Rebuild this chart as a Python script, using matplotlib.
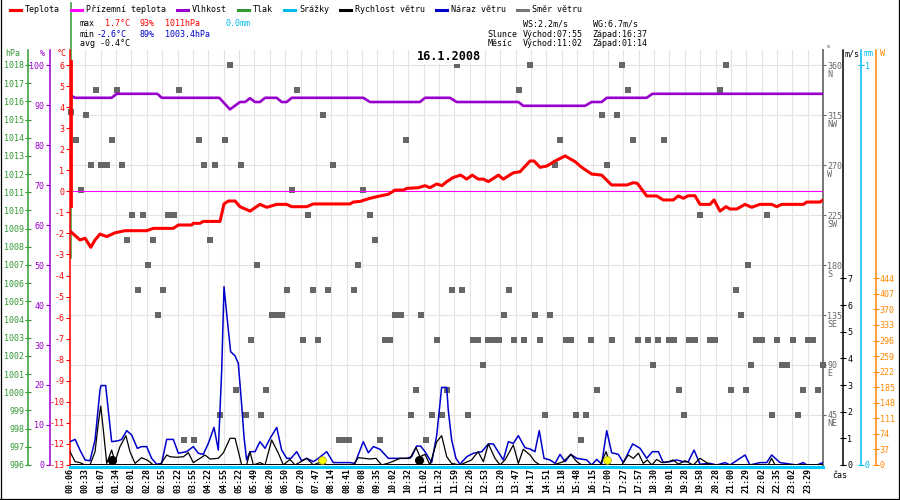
import matplotlib
matplotlib.use("Agg")
import matplotlib.pyplot as plt
import matplotlib.transforms as mtransforms
from matplotlib.lines import Line2D

# ---------------------------------------------------------------- data
# x axis = sample index of the tick labels (0 = 00:06 ... 48 = 23:29)
casy = ["00:06", "00:33", "01:07", "01:34", "02:01", "02:28", "02:55", "03:22", "03:55", "04:22",
        "04:55", "05:22", "05:49", "06:20", "06:50", "07:20", "07:47", "08:14", "08:41", "09:08",
        "09:35", "10:02", "10:32", "11:02", "11:32", "11:59", "12:26", "12:53", "13:20", "13:47",
        "14:17", "14:51", "15:18", "15:48", "16:15", "17:00", "17:27", "17:57", "18:30", "19:01",
        "19:28", "19:58", "20:28", "21:00", "21:29", "22:02", "22:35", "23:02", "23:29"]

# temperature (degC)
teplota_cas = [0.05, 0.65, 0.98, 1.35, 1.63, 1.95, 2.39, 2.93, 3.58, 4.99,
               5.42, 6.72, 7.05, 7.92, 8.02, 8.46, 8.67, 9.76, 10.02, 10.30,
               10.74, 11.06, 11.71, 12.36, 12.80, 13.45, 14.10, 14.42, 15.40, 15.83,
               18.22, 18.43, 18.87, 19.52, 20.17, 20.71, 21.15, 21.69, 21.91, 22.66,
               23.10, 23.42, 23.86, 24.20, 24.51, 24.94, 25.42, 25.81, 26.17, 26.56,
               26.89, 27.22, 27.87, 28.19, 28.84, 29.28, 29.93, 30.19, 30.58, 31.02,
               31.56, 32.21, 32.86, 33.29, 33.94, 34.59, 35.24, 36.22, 36.65, 36.91,
               37.52, 38.17, 38.60, 39.25, 39.58, 39.90, 40.23, 40.66, 40.99, 41.64,
               41.90, 42.29, 42.68, 42.94, 43.38, 43.92, 44.35, 44.89, 45.65, 45.98,
               46.30, 47.71, 47.93, 48.80, 49.00]
teplota = [-1.92, -2.31, -2.23, -2.66, -2.31, -2.03, -2.15, -1.97, -1.87, -1.87,
           -1.76, -1.76, -1.60, -1.60, -1.52, -1.52, -1.43, -1.43, -0.60, -0.46,
           -0.46, -0.73, -0.94, -0.62, -0.76, -0.62, -0.62, -0.73, -0.73, -0.60,
           -0.60, -0.51, -0.48, -0.33, -0.22, -0.14, 0.06, 0.06, 0.14, 0.17,
           0.27, 0.17, 0.35, 0.27, 0.46, 0.66, 0.77, 0.58, 0.77, 0.58,
           0.58, 0.46, 0.77, 0.58, 0.88, 0.93, 1.44, 1.44, 1.14, 1.20,
           1.44, 1.68, 1.41, 1.14, 0.82, 0.77, 0.30, 0.30, 0.41, 0.38,
           -0.22, -0.22, -0.41, -0.41, -0.22, -0.33, -0.21, -0.21, -0.62, -0.62,
           -0.41, -0.94, -0.73, -0.84, -0.84, -0.62, -0.76, -0.62, -0.62, -0.73,
           -0.62, -0.62, -0.51, -0.51, -0.41]
teplota_start_cas = [0.05, 0.05]
teplota_start = [6.2, -0.7]

prizemni_cas = [0.0, 49.0]
prizemni = [0.0, 0.0]

# humidity (%)
vlhkost_cas = [0.0, 0.33, 2.71, 3.04, 5.68, 5.97, 9.71, 10.41, 11.06, 11.39,
               11.71, 12.04, 12.36, 12.69, 13.45, 13.77, 14.10, 14.42, 19.08, 19.52,
               22.77, 23.10, 24.72, 25.16, 29.17, 29.49, 33.51, 33.94, 34.59, 34.92,
               37.52, 37.89, 49.0]
vlhkost = [92.5, 91.8, 91.8, 92.8, 92.8, 91.8, 91.8, 88.9, 90.75, 90.75,
           91.7, 90.75, 90.75, 91.8, 91.8, 90.75, 90.75, 91.8, 91.8, 90.75,
           90.75, 91.8, 91.8, 90.75, 90.75, 89.8, 89.8, 90.75, 90.75, 91.8,
           91.8, 92.8, 92.8]

# pressure (hPa) - only a spike at the start is drawn
tlak_cas = [0.08, 0.08]
tlak = [1021.4, 1007.4]

# precipitation (mm)
srazky_cas = [0.0, 49.0]
srazky = [0.0, 0.0]

# wind gust (m/s)
naraz_cas = [0.0, 0.33, 0.65, 0.98, 1.30, 1.63, 1.95, 2.02, 2.32, 2.49,
             2.71, 3.14, 3.36, 3.69, 4.01, 4.38, 4.66, 4.99, 5.31, 5.64,
             5.96, 6.29, 6.72, 7.05, 7.59, 8.02, 8.35, 8.67, 9.00, 9.37,
             9.65, 9.87, 10.02, 10.19, 10.35, 10.45, 10.74, 10.95, 11.17, 11.32,
             11.49, 11.71, 12.04, 12.36, 12.69, 13.02, 13.45, 13.77, 14.10, 14.38,
             14.75, 15.07, 15.40, 15.83, 16.16, 16.70, 17.13, 18.22, 18.54, 19.08,
             19.41, 19.74, 20.17, 20.71, 21.04, 21.91, 22.23, 22.55, 22.81, 23.10,
             23.53, 23.86, 24.18, 24.51, 24.61, 24.83, 25.11, 25.37, 25.81, 26.24,
             26.79, 27.22, 27.54, 28.19, 28.52, 28.84, 29.17, 29.60, 29.93, 30.25,
             30.53, 30.84, 31.23, 31.56, 31.88, 32.21, 32.58, 32.97, 33.62, 33.94,
             34.27, 34.59, 34.92, 35.24, 35.67, 36.00, 36.61, 37.09, 37.52, 37.89,
             38.28, 38.60, 39.04, 39.47, 39.90, 40.23, 40.60, 40.99, 41.64, 42.08,
             42.62, 42.94, 43.92, 44.24, 44.89, 45.33, 45.65, 46.19, 47.28, 47.71,
             47.93, 48.58, 49.0]
naraz = [0.875, 0.96, 0.56, 0.19, 0.16, 0.94, 2.81, 2.98, 2.98, 2.06,
         0.875, 0.91, 0.96, 1.29, 1.125, 0.625, 0.69, 0.69, 0.25, 0.03,
         0.06, 0.96, 0.96, 0.44, 0.5, 0.69, 0.44, 0.4, 0.81, 1.41,
         0.56, 3.56, 6.69, 5.69, 4.81, 4.25, 4.09, 3.81, 2.25, 1.06,
         0.19, 0.5, 0.5, 0.875, 0.625, 1.0, 1.41, 0.56, 0.25, 0.25,
         0.5, 0.16, 0.25, 0.125, 0.25, 0.5, 0.09, 0.09, 0.06, 0.875,
         0.46, 0.69, 0.59, 0.25, 0.25, 0.25, 0.31, 0.71, 0.71, 0.5,
         0.09, 1.125, 2.91, 2.91, 2.06, 0.94, 0.25, 0.03, 0.31, 0.44,
         0.5, 0.79, 0.79, 0.19, 0.875, 0.81, 1.1, 0.65, 0.6, 0.5,
         1.29, 0.25, 0.19, 0.06, 0.4, 0.125, 0.4, 0.25, 0.19, 0.0,
         0.21, 0.03, 1.29, 0.46, 0.4, 0.09, 0.79, 0.625, 0.25, 0.5,
         0.5, 0.09, 0.125, 0.19, 0.125, 0.125, 0.56, 0.03, 0.06, 0.0,
         0.09, 0.0, 0.375, 0.0, 0.09, 0.09, 0.375, 0.09, 0.0, 0.09,
         0.0, 0.0, 0.09]

# wind speed (m/s)
rychlost_cas = [0.0, 0.33, 0.65, 0.98, 1.30, 1.63, 1.84, 2.00, 2.17, 2.39,
                2.71, 2.93, 3.25, 3.64, 3.90, 4.23, 4.66, 5.10, 5.42, 5.86,
                6.29, 6.51, 6.94, 7.38, 7.70, 8.02, 8.46, 8.78, 9.11, 9.65,
                9.98, 10.41, 10.74, 11.17, 11.49, 11.71, 11.93, 12.36, 12.69, 13.12,
                13.56, 13.88, 14.31, 14.64, 15.40, 15.83, 16.37, 16.70, 18.43, 18.76,
                19.52, 19.91, 20.28, 20.82, 21.47, 22.12, 22.51, 22.77, 23.10, 23.42,
                23.86, 24.18, 24.51, 24.83, 25.37, 26.13, 26.55, 26.89, 27.22, 27.65,
                27.98, 28.30, 28.84, 29.17, 29.49, 29.93, 30.25, 30.58, 31.45, 32.10,
                32.58, 32.97, 33.29, 34.49, 34.88, 35.14, 35.89, 36.32, 36.65, 36.98,
                37.30, 37.56, 37.85, 38.17, 38.50, 38.93, 39.25, 39.58, 40.01, 40.55,
                40.99, 41.42, 41.75, 45.43, 45.65, 45.87, 49.0]
rychlost = [0.5, 0.125, 0.09, 0.0, 0.0, 0.5, 1.56, 2.21, 1.31, 0.06,
            0.56, 0.125, 0.69, 1.1, 0.5, 0.06, 0.275, 0.16, 0.0, 0.0,
            0.375, 0.31, 0.29, 0.31, 0.46, 0.09, 0.25, 0.375, 0.225, 0.25,
            0.46, 1.0, 1.0, 0.0, 0.0, 0.5, 0.0, 0.09, 0.0, 0.94,
            0.44, 0.0, 0.21, 0.0, 0.25, 0.0, 0.125, 0.0, 0.0, 0.275,
            0.225, 0.25, 0.0, 0.09, 0.25, 0.25, 0.66, 0.31, 0.4, 0.0,
            0.875, 1.1, 0.31, 0.06, 0.0, 0.19, 0.5, 0.125, 0.79, 0.25,
            0.0, 0.19, 0.75, 0.06, 0.59, 0.375, 0.125, 0.0, 0.0, 0.125,
            0.4, 0.125, 0.0, 0.0, 0.5, 0.0, 0.0, 0.375, 0.25, 0.44,
            0.06, 0.19, 0.0, 0.21, 0.09, 0.125, 0.19, 0.03, 0.16, 0.0,
            0.25, 0.09, 0.0, 0.0, 0.25, 0.0, 0.0]

# wind direction (deg), sample times grouped by direction
smer_urovne = [360, 337.5, 318, 315, 292.5, 270, 247.5, 225, 202.5, 180,
               157.5, 135, 112.5, 90, 67.5, 45, 22.5]
smer_casy = [
    [10.41, 25.16, 29.93, 35.89, 42.66],
    [1.69, 3.04, 7.09, 14.75, 29.21, 36.28, 42.29],
    [0.05],
    [1.04, 16.44, 34.59, 35.57],
    [0.37, 2.71, 8.39, 10.07, 21.84, 31.88, 36.61, 38.65],
    [1.35, 2.00, 2.39, 3.36, 8.74, 9.41, 11.11, 17.13, 31.56, 34.92],
    [0.70, 14.44, 19.08],
    [4.01, 4.73, 6.36, 6.75, 15.46, 19.52, 40.99, 45.33],
    [3.69, 5.38, 9.09, 19.84],
    [5.07, 12.17, 18.74, 44.11],
    [4.40, 6.03, 14.12, 15.81, 16.79, 18.46, 24.83, 25.50, 28.56, 43.33],
    [5.71, 13.14, 13.47, 13.79, 21.13, 21.52, 22.84, 28.24, 30.25, 31.23, 43.66],
    [11.76, 15.16, 16.14, 20.49, 20.82, 23.86, 26.20, 26.54, 27.18, 27.54, 27.91,
     28.89, 29.54, 30.58, 32.27, 32.60, 33.90, 35.24, 36.95, 37.61, 38.26, 38.97,
     39.30, 40.27, 40.66, 41.64, 41.96, 44.63, 45.02, 46.00, 47.04, 48.01, 48.34],
    [26.85, 37.93, 44.31, 46.32, 46.65, 48.98],
    [10.78, 12.75, 22.51, 24.53, 34.29, 39.62, 43.00, 43.98, 47.69, 48.67],
    [9.76, 11.43, 12.43, 22.19, 23.53, 24.18, 25.90, 30.90, 32.92, 33.57, 39.95, 45.67, 47.37],
    [7.42, 8.07, 17.50, 17.83, 18.16, 20.17, 23.16, 33.24],
]

# moon set / rise and sunrise / sunset
mesic_cas = [2.75, 22.71]
slunce_cas = [16.42, 34.92]

# axis ticks
tlak_ticks = list(range(996, 1019))
vlhkost_ticks = list(range(0, 101, 10))
teplota_ticks = list(range(-13, 7))
smer_ticks = [45, 90, 135, 180, 225, 270, 315, 360]
smer_nazvy = ["NE", "E", "SE", "S", "SW", "W", "NW", "N"]
vitr_ticks = list(range(0, 8))
srazky_ticks = [0, 1]
zareni_ticks = list(range(0, 445, 37))

legenda = [("Teplota", "#ff0000"), ("Přízemní teplota", "#ff00ff"), ("Vlhkost", "#9900cc"),
           ("Tlak", "#339933"), ("Srážky", "#00bbee"), ("Rychlost větru", "#000000"),
           ("Náraz větru", "#0000cc"), ("Směr větru", "#777777")]

# ---------------------------------------------------------------- figure
plt.rcParams['font.family'] = ['DejaVu Sans Mono', 'DejaVu Sans']
plt.rcParams['font.size'] = 6
plt.rcParams['axes.unicode_minus'] = False

W, H = 900, 500
L, R, T, B = 70.0, 823.3, 50.0, 465.0


def fx(x):
    return x / W


def fy(y):
    return 1 - y / H


def lims(v0, v1):
    # v0 sits on the bottom (y=465), v1 on y=65, axes box goes up to y=50
    return (v0, v1 + (v1 - v0) * 15.0 / 400.0)


fig = plt.figure(figsize=(9, 5), dpi=100)
ax = fig.add_axes([fx(L), fy(B), (R - L) / W, (B - T) / H])
ax.set_xlim(0, 49.01)
ax.set_ylim(lims(0, 360))
ax.set_xticks(range(len(casy)))
ax.set_xticklabels(casy, rotation=90, fontweight='bold')
ax.tick_params(axis='x', length=0, pad=2.5, labelsize=6)
ax.grid(True, color='#e6e2e2', lw=0.8)
ax.set_axisbelow(True)
for s in ['left', 'top', 'bottom']:
    ax.spines[s].set_visible(False)
ax.spines['right'].set_color('#777777')
ax.spines['right'].set_linewidth(1.4)

for uroven, cas in zip(smer_urovne, smer_casy):
    ax.plot(cas, [uroven] * len(cas), 's', ms=4.3, color='#666666', mew=0,
            clip_on=False, zorder=3)


def twin(color, lim, side, pos_px, ticks, direction, length):
    a = ax.twinx()
    a.set_ylim(lim)
    for s in a.spines.values():
        s.set_visible(False)
    sp = a.spines[side]
    sp.set_visible(True)
    sp.set_color(color)
    sp.set_linewidth(1.1)
    sp.set_position(('axes', (pos_px - L) / (R - L)))
    if side == 'left':
        a.yaxis.tick_left()
    else:
        a.yaxis.tick_right()
    a.set_yticks(ticks)
    a.set_yticklabels([str(t) for t in ticks])
    a.tick_params(axis='y', colors=color, direction=direction, length=length,
                  width=0.8, pad=1, labelsize=6)
    return a


a_p = twin('#339933', lims(996, 1018), 'left', 28.3, tlak_ticks, 'inout', 4)
a_p.plot(tlak_cas, tlak, color='#339933', lw=1.1, clip_on=False)

a_h = twin('#9900cc', lims(0, 100), 'left', 50.0, vlhkost_ticks, 'out', 3)
a_h.plot(vlhkost_cas, vlhkost, color='#9900cc', lw=1.9)

a_s = twin('#00bbee', lims(0, 1), 'right', 860.5, srazky_ticks, 'inout', 4)
a_s.plot(srazky_cas, srazky, color='#00ccff', lw=2.2, clip_on=False,
         transform=mtransforms.offset_copy(a_s.transData, fig=fig, y=-1.5, units='dots'))

a_z = twin('#ff8800', lims(0, 951.4), 'right', 875.5, zareni_ticks, 'inout', 4)

a_t = twin('#ff0000', lims(-13, 6), 'left', 70.0, teplota_ticks, 'out', 3)
a_t.plot(prizemni_cas, prizemni, color='#ff00ff', lw=0.8)
a_t.plot(teplota_cas, teplota, color='#ff0000', lw=2.2)
a_t.plot(teplota_start_cas, teplota_start, color='#ff0000', lw=2.0, clip_on=False)

a_w = twin('#000000', lims(0, 15), 'right', 843.3, vitr_ticks, 'inout', 4)
a_w.plot(naraz_cas, naraz, color='#0000cc', lw=1.1)
a_w.plot(rychlost_cas, rychlost, color='#000000', lw=0.9)
a_w.plot(rychlost_cas, [0] * len(rychlost_cas), color='#000000', lw=1.4)
tr = mtransforms.blended_transform_factory(a_w.transData, a_w.transAxes)
a_w.plot(mesic_cas, [0.012] * len(mesic_cas), 'o', ms=5.5, color='#000000',
         transform=tr, clip_on=False)
a_w.plot(slunce_cas, [0.012] * len(slunce_cas), 'o', ms=5.5, mfc='#ffff00',
         mec='#999900', mew=0.5, transform=tr, clip_on=False)

# direction axis on the right edge of the plot (twinx moved it to the left)
ax.yaxis.tick_right()
ax.set_yticks(smer_ticks)
ax.set_yticklabels([str(t) for t in smer_ticks])
ax.tick_params(axis='y', colors='#666666', direction='out', length=2, width=0.8,
               pad=1, labelsize=6)
trn = mtransforms.offset_copy(mtransforms.blended_transform_factory(ax.transAxes, ax.transData),
                              fig=fig, x=4, y=-9, units='dots')
for deg, name in zip(smer_ticks, smer_nazvy):
    ax.text(1.0, deg, name, transform=trn, ha='left', va='center', color='#666666',
            fontsize=6, clip_on=False)

# unit labels above the axes
for x, y, s, c in [(12.5, 54, "hPa", '#339933'), (42.5, 54, "%", '#9900cc'),
                   (62, 53, "°C", '#ff0000'), (828, 50, "°", '#666666'),
                   (852, 54, "m/s", '#000000'), (868, 54, "mm", '#00bbee'),
                   (882.5, 54, "W", '#ff8800'), (840, 475, "čas", '#000000')]:
    fig.text(fx(x), fy(y), s, color=c, ha='center', va='center', fontsize=6)

# legend row
x0 = 10
for name, col in legenda:
    fig.add_artist(Line2D([fx(x0), fx(x0 + 11)], [fy(9.5), fy(9.5)], color=col, lw=2.2))
    fig.text(fx(x0 + 15), fy(9.5), name, ha='left', va='center', fontsize=6)
    x0 = x0 + 15 + 5 * len(name) + 11

# statistics
staty = [(80, 24, "max", '#000000'), (105, 24, "1.7°C", '#ff0000'),
         (139.3, 24, "93%", '#ff0000'), (165, 24, "1011hPa", '#ff0000'),
         (225.3, 24, "0.0mm", '#00bbee'),
         (80, 34, "min", '#000000'), (96.7, 34, "-2.6°C", '#0000cc'),
         (139.3, 34, "89%", '#0000cc'), (165, 34, "1003.4hPa", '#0000cc'),
         (80, 44, "avg -0.4°C", '#000000'),
         (522.7, 24, "WS:2.2m/s", '#000000'), (592.7, 24, "WG:6.7m/s", '#000000'),
         (487, 34, "Slunce", '#000000'), (522.7, 34, "Východ:07:55", '#000000'),
         (592.7, 34, "Západ:16:37", '#000000'),
         (487.5, 44, "Měsíc", '#000000'), (522.7, 44, "Východ:11:02", '#000000'),
         (592.7, 44, "Západ:01:14", '#000000')]
for x, y, s, c in staty:
    fig.text(fx(x), fy(y), s, color=c, ha='left', va='center', fontsize=6)

fig.text(fx(449), fy(57), "16.1.2008", ha='center', va='center', fontsize=8.5,
         fontweight='bold', bbox=dict(fc='white', ec='none', pad=0.5))

# outer frame
for xs, ys in [([0.5, 0.5], [0, 499]), ([898.5, 898.5], [0, 499]), ([0, 899], [498.5, 498.5])]:
    fig.add_artist(Line2D([fx(v) for v in xs], [fy(v) for v in ys], color='black', lw=0.9))

fig.savefig('out.png', dpi=100)
